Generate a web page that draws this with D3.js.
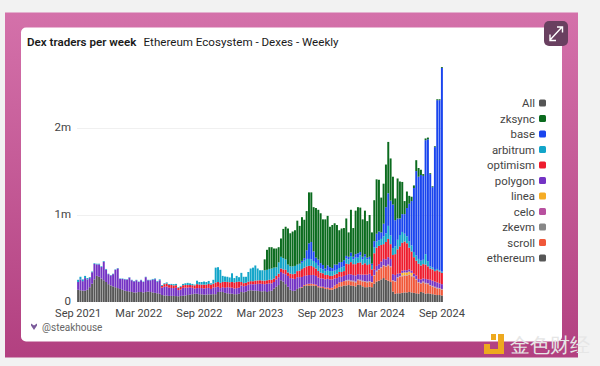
<!DOCTYPE html>
<html><head><meta charset="utf-8">
<script src="https://cdn.jsdelivr.net/npm/d3@7"></script>
<style>
html,body{margin:0;padding:0;background:#f2f2f2;overflow:hidden}
svg{display:block}
text{font-family:"Roboto",sans-serif}
</style></head><body><svg id="c" width="600" height="366"></svg>
<script>
const titleBold="Dex traders per week";
const titleRest="Ethereum Ecosystem - Dexes - Weekly";
const credit="@steakhouse";
const tickLabels=["Sep 2021","Mar 2022","Sep 2022","Mar 2023","Sep 2023","Mar 2024","Sep 2024"];
const tickWeekIndex=[0,26,52,78,104,130,156];
const yTicks=[0,1000,2000];
const legendNames=["All","zksync","base","arbitrum","optimism","polygon","linea","celo","zkevm","scroll","ethereum"];
const legendColors=["#555555","#0b6b1e","#1a45ee","#12a5c9","#ee1c2e","#7433c4","#f5ac25","#b8509f","#878787","#f0583a","#565656"];
// weekly active traders, thousands, bottom of stack first
const ethereum=[140,135,130,130,140,170,210,260,300,290,
270,250,230,205,190,180,170,160,150,140,
130,125,120,115,110,110,115,115,110,115,
120,115,110,105,100,95,80,75,75,70,
70,70,68,66,70,72,75,80,85,90,
95,95,90,88,85,85,88,88,90,90,
115,118,115,105,100,95,95,90,90,95,
115,112,118,130,135,132,130,128,125,122,
125,115,125,130,155,175,195,250,235,205,
175,140,127,130,150,160,165,185,190,190,
190,188,185,170,165,160,150,148,140,140,
150,160,175,180,190,190,195,190,185,180,
200,195,180,170,170,175,170,210,235,245,
260,275,255,245,230,120,95,100,100,105,
110,110,115,110,105,100,95,115,110,95,
100,95,90,85,80,80,75];
const scroll=[0,0,0,0,0,0,0,0,0,0,0,0,0,0,0,0,0,0,0,0,
0,0,0,0,0,0,0,0,0,0,0,0,0,0,0,0,0,0,0,0,
0,0,0,0,0,0,0,0,0,0,0,0,0,0,0,0,0,0,0,0,
0,0,0,0,0,0,0,0,0,0,0,0,0,0,0,0,0,0,0,0,
0,0,0,0,0,0,0,0,0,0,0,0,0,0,0,5,8,10,15,20,
20,18,15,12,12,15,15,18,20,25,
40,45,50,50,50,50,50,48,50,45,
50,50,55,60,55,55,50,90,115,125,
130,140,150,175,170,120,135,175,190,190,
190,190,195,185,180,155,125,95,115,115,
105,90,85,80,75,70,65];
const zkevm=[0,0,0,0,0,0,0,0,0,0,0,0,0,0,0,0,0,0,0,0,
0,0,0,0,0,0,0,0,0,0,0,0,0,0,0,0,0,0,0,0,
0,0,0,0,0,0,0,0,0,0,0,0,0,0,0,0,0,0,0,0,
0,0,0,0,0,0,0,0,0,0,0,0,0,0,0,0,0,0,0,0,
0,0,0,0,0,0,0,0,0,0,0,0,0,0,0,0,0,0,0,0,
0,0,0,0,0,0,0,0,0,0,0,0,0,0,0,
5,5,5,5,5,5,5,5,5,5,5,5,5,5,5,5,5,5,5,5,5,
5,5,5,5,5,5,5,5,5,5,5,5,5,5,5,5,5,5,5,5,5];
const celo=[0,0,0,0,0,0,0,0,0,0,0,0,0,0,0,0,0,0,0,0,
0,0,0,0,0,0,0,0,0,0,0,0,0,0,0,0,0,0,0,0,
0,0,0,0,0,0,0,0,0,0,0,0,0,0,0,0,0,0,0,0,
0,0,0,0,0,0,0,0,0,0,0,0,0,0,0,0,0,0,0,0,
0,0,0,0,0,0,0,0,0,0,0,0,0,0,0,0,0,0,0,0,
0,0,0,0,0,0,0,0,0,0,0,0,0,0,0,
3,3,3,3,3,3,3,3,3,3,3,3,3,3,3,3,3,3,3,3,3,
3,3,3,3,3,3,3,3,3,3,3,3,3,3,3,3,3,3,3,3,3];
const linea=[0,0,0,0,0,0,0,0,0,0,0,0,0,0,0,0,0,0,0,0,
0,0,0,0,0,0,0,0,0,0,0,0,0,0,0,0,0,0,0,0,
0,0,0,0,0,0,0,0,0,0,0,0,0,0,0,0,0,0,0,0,
0,0,0,0,0,0,0,0,0,0,0,0,0,0,0,0,0,0,0,0,
0,0,0,0,0,0,0,0,0,0,0,0,0,0,0,0,0,0,0,0,
0,0,0,0,0,0,0,0,0,0,0,0,0,0,0,
2,2,2,2,2,2,2,2,2,2,2,2,2,2,2,2,2,2,2,2,2,2,2,2,
32,32,32,32,32,2,2,2,2,2,2,2,2,2,2,2,2,2];
const polygon=[90,125,110,145,120,105,132,177,132,142,
132,212,142,115,115,140,200,225,115,125,
130,132,160,135,127,140,115,135,120,170,
130,135,147,157,134,155,85,100,103,95,
91,90,95,71,75,91,90,85,85,73,
60,65,70,72,70,75,74,62,75,80,
60,42,55,58,70,72,70,65,70,70,
75,70,68,68,70,72,75,80,85,85,
80,95,90,85,75,85,90,95,95,115,
125,135,143,135,135,120,115,105,100,100,
100,105,100,100,95,95,95,100,100,95,
80,70,65,60,60,60,65,70,65,70,
60,60,70,75,80,85,70,60,55,55,
65,70,75,85,85,70,70,40,30,25,
25,25,25,25,30,40,35,40,35,45,
45,60,60,60,60,55,55];
const optimism=[0,0,0,0,0,0,0,0,0,0,
0,0,0,0,0,0,0,0,0,0,
0,0,0,0,0,0,0,0,0,0,
0,0,0,0,0,0,20,30,35,30,
35,30,30,25,30,30,30,30,25,30,
35,45,40,40,45,40,45,50,45,55,
55,60,60,70,60,60,65,70,70,70,
40,35,35,35,35,35,40,40,40,40,
40,40,40,40,40,40,40,40,45,50,
40,50,50,60,70,75,90,95,105,105,
105,90,85,75,65,60,50,45,40,40,
45,50,55,55,55,130,115,140,125,130,
130,140,115,130,110,110,75,190,210,210,
190,170,200,210,170,220,240,280,310,320,
330,310,250,220,190,170,175,160,165,165,
150,130,130,120,140,135,130];
const arbitrum=[25,30,20,25,15,10,8,8,8,8,
8,8,8,5,5,5,5,5,5,5,
5,5,5,5,5,5,5,5,5,5,
5,5,8,8,8,10,10,10,12,10,
12,15,15,8,10,15,20,25,20,15,
10,40,30,30,35,30,35,15,45,170,
170,150,70,60,60,55,100,50,70,50,
105,73,69,112,145,156,175,137,115,118,
120,120,125,130,125,100,130,135,130,120,
90,85,90,90,75,75,75,80,85,80,
75,70,65,60,50,45,45,50,55,55,
45,45,45,55,55,60,55,70,55,75,
60,80,60,75,65,60,50,70,70,65,
70,90,100,150,100,80,90,110,130,125,
90,80,75,70,60,60,55,55,50,120,
60,25,20,15,15,15,15];
const base=[0,0,0,0,0,0,0,0,0,0,0,0,0,0,0,0,0,0,0,0,
0,0,0,0,0,0,0,0,0,0,0,0,0,0,0,0,0,0,0,0,
0,0,0,0,0,0,0,0,0,0,0,0,0,0,0,0,0,0,0,0,
0,0,0,0,0,0,0,0,0,0,0,0,0,0,0,0,0,0,0,0,
0,0,0,0,0,0,0,0,0,0,0,0,0,0,0,
5,20,30,100,180,
200,110,60,70,60,50,30,60,45,35,
70,60,65,60,70,30,30,40,30,40,
50,40,30,30,20,25,15,70,90,100,
75,145,300,375,400,500,300,245,190,205,
225,325,430,510,735,970,945,985,965,1310,
1400,1060,925,1410,1940,1955,2340];
const zksync=[0,0,0,0,0,0,0,0,0,0,0,0,0,0,0,0,0,0,0,0,
0,0,0,0,0,0,0,0,0,0,0,0,0,0,0,0,0,0,0,0,
0,0,0,0,0,0,0,0,0,0,0,0,0,0,0,0,0,0,0,0,
0,0,0,0,0,0,0,0,0,0,0,0,0,0,0,0,0,0,0,0,
125,230,250,245,220,215,175,210,335,375,
415,380,400,410,505,435,502,440,450,585,
570,509,570,573,573,525,565,569,465,495,
475,455,370,385,370,430,280,492,330,500,
530,510,430,500,420,480,360,470,625,595,
400,460,490,590,485,320,250,460,425,370,
150,190,90,50,30,125,100,60,20,20,
20,10,10,10,10,10,10];

const seriesKeys=["ethereum","scroll","zkevm","celo","linea","polygon","optimism","arbitrum","base","zksync"];
const seriesData={ethereum,scroll,zkevm,celo,linea,polygon,optimism,arbitrum,base,zksync};
const colorOf=d3.scaleOrdinal().domain(legendNames).range(legendColors);
const weeks=d3.range(ethereum.length);
const rows=weeks.map(i=>{const r={week:i};seriesKeys.forEach(k=>r[k]=seriesData[k][i]);return r;});

const svg=d3.select("#c");
const defs=svg.append("defs");
const g=defs.append("linearGradient").attr("id","bg").attr("x1",0).attr("y1",0).attr("x2",0).attr("y2",1);
g.append("stop").attr("offset","0").attr("stop-color","#d471aa");
g.append("stop").attr("offset","1").attr("stop-color","#b24080");

svg.append("rect").attr("x",5).attr("y",12.5).attr("width",573).attr("height",345).attr("fill","url(#bg)");
svg.append("rect").attr("x",21).attr("y",27.5).attr("width",541).attr("height",314).attr("rx",5).attr("fill","#fff");

// title
const t=svg.append("text").attr("x",27).attr("y",45.5).attr("font-size",11.6).attr("fill","#1a1a1a");
t.append("tspan").attr("font-weight",600).text(titleBold);
t.append("tspan").attr("x",143.5).text(titleRest);

// expand button
svg.append("rect").attr("x",544).attr("y",21).attr("width",24).attr("height",25).attr("rx",5).attr("fill","#694060");
const ex=svg.append("g").attr("stroke","#fff").attr("stroke-width",1.4).attr("fill","none");
ex.append("path").attr("d","M550 40L562 27M557 27H562.5V32.5M550 34.5V40.5H556");

const x=d3.scaleBand().domain(weeks).range([77,443]).paddingInner(0.16).paddingOuter(0.05);
const y=d3.scaleLinear().domain([0,2000]).range([302,128]);

// grid
svg.append("g").selectAll("line").data(yTicks.slice(1)).join("line")
 .attr("x1",77).attr("x2",443).attr("y1",d=>y(d)+.5).attr("y2",d=>y(d)+.5).attr("stroke","#f0f0f0");

// bars
const stack=d3.stack().keys(seriesKeys)(rows);
svg.append("g").selectAll("g").data(stack).join("g").attr("fill",d=>colorOf(d.key))
 .selectAll("rect").data(d=>d).join("rect")
 .attr("x",d=>x(d.data.week)).attr("width",x.bandwidth())
 .attr("y",d=>y(d[1])).attr("height",d=>Math.max(0,y(d[0])-y(d[1])));

// y axis
const ya=d3.axisLeft(y).tickValues(yTicks).tickSize(0).tickPadding(0)
 .tickFormat(d=>d===0?"0":(d/1000)+"m");
const yg=svg.append("g").attr("transform","translate(71,0)").call(ya);
yg.select(".domain").remove();
yg.selectAll("text").attr("font-size",11.5).attr("fill","#444").attr("font-family",'"Roboto",sans-serif').attr("dy","0.2em");

// x axis
const xa=d3.axisBottom(x).tickValues(tickWeekIndex).tickSize(0).tickPadding(0)
 .tickFormat((d,i)=>tickLabels[i]);
const xg=svg.append("g").attr("transform","translate(0,309)").call(xa);
xg.select(".domain").remove();
xg.selectAll("text").attr("font-size",11).attr("fill","#444").attr("font-family",'"Roboto",sans-serif').attr("dy","0.71em");

// legend
const leg=svg.append("g").selectAll("g").data(legendNames).join("g")
 .attr("transform",(d,i)=>`translate(0,${103+i*15.5})`);
leg.append("text").attr("x",535).attr("dy","0.36em").attr("text-anchor","end").attr("font-size",11.4).attr("fill","#444").text(d=>d);
leg.append("rect").attr("x",539).attr("y",-3.5).attr("width",7).attr("height",7).attr("rx",1.5).attr("fill",d=>colorOf(d));

// credit
svg.append("path").attr("d","M31 323.5L34 325.5L37 323.5L37 325.5L34 330L31 325.5Z").attr("fill","#7a5a9a");
svg.append("text").attr("x",42).attr("y",331).attr("font-size",10).attr("fill","#666").text(credit);

// watermark
const wm=svg.append("g");
wm.append("path").attr("d","M484 344H490V349H498V334H504V354H484Z").attr("fill","#eda91f");
wm.append("rect").attr("x",491).attr("y",334).attr("width",5).attr("height",6).attr("fill","#eda91f");
wm.append("text").attr("x",510).attr("y",352).attr("font-size",20).attr("fill","#e6e6e6").attr("font-family",'"Noto Sans CJK SC"').text("金色财经");
</script></body></html>
